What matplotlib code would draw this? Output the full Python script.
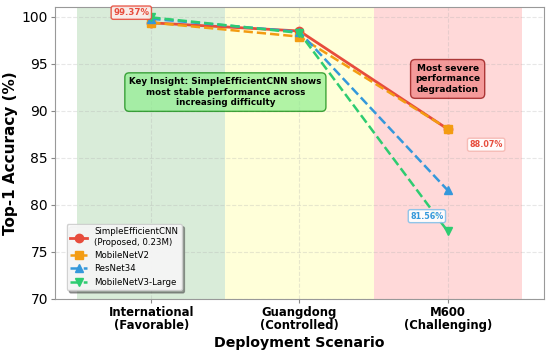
import matplotlib.pyplot as plt

# Datos
scenarios = ['International\n(Favorable)', 'Guangdong\n(Controlled)', 'M600\n(Challenging)']
simple_cnn = [99.37, 98.5, 88.07]
mobilenetv2 = [99.4, 97.9, 88.1]
resnet34 = [99.8, 98.4, 81.56]
mobilenetv3 = [99.95, 98.3, 77.2]

x = list(range(len(scenarios)))

fig, ax = plt.subplots(figsize=(5.5, 3.52), dpi=100)
fig.subplots_adjust(left=0.1, right=0.989, top=0.98, bottom=0.151)

# Zonas de fondo
ax.axvspan(-0.5, 0.5, color='green', alpha=0.15, lw=0)
ax.axvspan(0.5, 1.5, color='yellow', alpha=0.15, lw=0)
ax.axvspan(1.5, 2.5, color='red', alpha=0.15, lw=0)

ax.plot(x, simple_cnn, marker='o', linestyle='-', color='#e74c3c', lw=2, ms=6,
        label='SimpleEfficientCNN\n(Proposed, 0.23M)')
ax.plot(x, mobilenetv2, marker='s', linestyle='--', color='#f39c12', lw=1.8, ms=6,
        label='MobileNetV2')
ax.plot(x, resnet34, marker='^', linestyle='--', color='#3498db', lw=1.8, ms=6,
        label='ResNet34')
ax.plot(x, mobilenetv3, marker='v', linestyle='--', color='#2ecc71', lw=1.8, ms=6,
        label='MobileNetV3-Large')

# Etiquetas de valores
ax.text(-0.135, 100.45, f'{simple_cnn[0]:.2f}%', color='#e74c3c', fontsize=6.2, fontweight='bold',
        ha='center', va='center',
        bbox=dict(boxstyle='round,pad=0.25', fc='#fdecea', ec='#e74c3c', alpha=0.9))
ax.text(2.26, 86.4, f'{simple_cnn[2]:.2f}%', color='#e74c3c', fontsize=5.8, fontweight='bold',
        ha='center', va='center',
        bbox=dict(boxstyle='round,pad=0.25', fc='white', ec='#f5b7b1', alpha=0.9))
ax.text(1.86, 78.8, f'{resnet34[2]:.2f}%', color='#3498db', fontsize=5.8, fontweight='bold',
        ha='center', va='center',
        bbox=dict(boxstyle='round,pad=0.25', fc='white', ec='#85c1e9', alpha=0.9))

# Cajas de comentario
ax.text(0.5, 92.0, 'Key Insight: SimpleEfficientCNN shows\nmost stable performance across\nincreasing difficulty',
        fontsize=6.3, fontweight='bold', ha='center', va='center',
        bbox=dict(boxstyle='round,pad=0.5', fc='lightgreen', ec='green', alpha=0.7))
ax.text(2.0, 93.4, 'Most severe\nperformance\ndegradation',
        fontsize=6.5, fontweight='bold', ha='center', va='center',
        bbox=dict(boxstyle='round,pad=0.5', fc='lightcoral', ec='darkred', alpha=0.7))

ax.set_xlim(-0.65, 2.65)
ax.set_ylim(70, 101.05)
ax.set_xticks(x)
ax.set_xticklabels(scenarios, fontsize=8.4, fontweight='bold', linespacing=1.05)
ax.tick_params(axis='y', labelsize=10, pad=2)
ax.tick_params(axis='x', pad=2)
ax.tick_params(colors='#888888', labelcolor='black', length=3)
for s in ax.spines.values():
    s.set_color('#999999')
ax.set_xlabel('Deployment Scenario', fontsize=10.2, fontweight='bold', labelpad=3)
ax.set_ylabel('Top-1 Accuracy (%)', fontsize=11, fontweight='bold', labelpad=3)
ax.grid(True, linestyle='--', alpha=0.3)
ax.legend(loc='lower left', bbox_to_anchor=(0.015, 0.015), fontsize=6.2, framealpha=0.9,
          shadow=True)

plt.savefig('out.png')
